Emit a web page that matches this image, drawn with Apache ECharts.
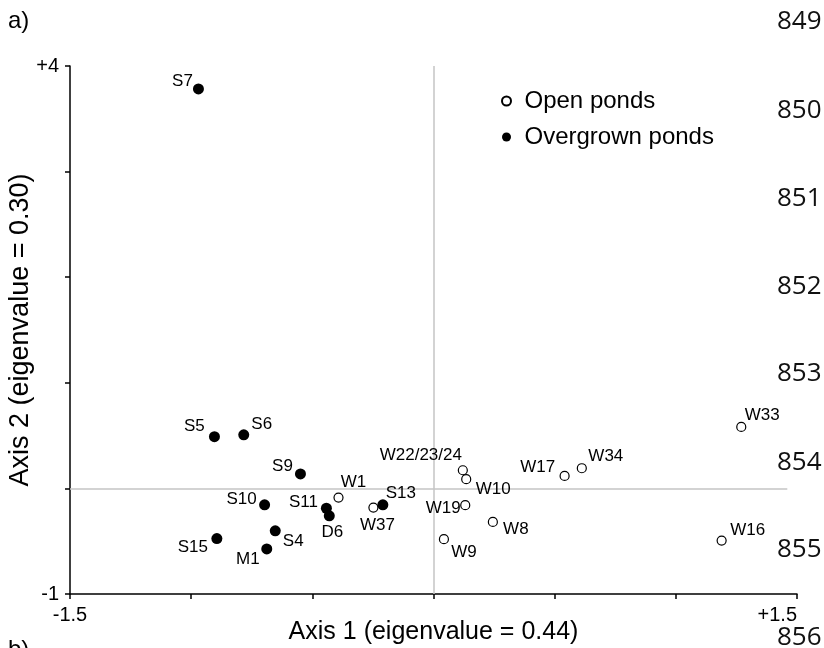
<!DOCTYPE html>
<html>
<head>
<meta charset="utf-8">
<script src="https://cdn.jsdelivr.net/npm/echarts@6/dist/echarts.min.js"></script>
<style>html,body{margin:0;padding:0;background:#fff;}#c{width:824px;height:648px;}</style>
</head>
<body>
<div id="c"></div>
<script>
// ---- data ----
const openNames = ['W1', 'W37', 'W22/23/24', 'W10', 'W19', 'W8', 'W9', 'W17', 'W34', 'W33', 'W16'];
const openX = [-0.392, -0.248, 0.121, 0.135, 0.131, 0.245, 0.043, 0.541, 0.612, 1.270, 1.189];
const openY = [-0.087, -0.182, 0.172, 0.087, -0.159, -0.317, -0.481, 0.118, 0.191, 0.582, -0.494];

const overNames = ['S7', 'S5', 'S6', 'S9', 'S10', 'S11', 'D6', 'S13', 'S4', 'M1', 'S15'];
const overX = [-0.970, -0.904, -0.783, -0.549, -0.697, -0.442, -0.430, -0.209, -0.653, -0.688, -0.894];
const overY = [3.783, 0.490, 0.507, 0.137, -0.156, -0.188, -0.260, -0.156, -0.402, -0.573, -0.475];

const seriesNames = ['Open ponds', 'Overgrown ponds'];
const xTickLabels = { '-1.5': '-1.5', '1.5': '+1.5' };
const yTickLabels = { '-1': '-1', '4': '+4' };
const axisTitles = ['Axis 1 (eigenvalue = 0.44)', 'Axis 2 (eigenvalue = 0.30)'];
const lineNumbers = ['849', '850', '851', '852', '853', '854', '855', '856'];

// ---- label placement (style, offset of label centre from point, px) ----
const labelOffset = {
  'W1': [15, -15], 'W37': [4, 18], 'W22/23/24': [-42, -15], 'W10': [27, 10], 'W19': [-22, 3],
  'W8': [23, 7], 'W9': [20, 13], 'W17': [-27, -9], 'W34': [24, -12], 'W33': [21, -12], 'W16': [26, -10],
  'S7': [-16, -8], 'S5': [-20, -10], 'S6': [18, -11], 'S9': [-18, -8], 'S10': [-23, -6], 'S11': [-23, -6],
  'D6': [3, 16], 'S13': [18, -12], 'S4': [18, 10], 'M1': [-19, 10], 'S15': [-24, 9]
};
const lineNumberY = [22, 111, 199, 287, 374, 463, 550, 638];

const FONT = '"Liberation Sans", Arial, Helvetica, sans-serif';

function build(names, xs, ys) {
  return names.map((n, i) => ({
    name: n,
    value: [xs[i], ys[i]],
    label: { offset: labelOffset[n] || [0, 0] }
  }));
}

const labelStyle = {
  show: true,
  position: 'inside',
  align: 'center',
  verticalAlign: 'middle',
  formatter: p => p.name,
  color: '#000',
  fontFamily: FONT,
  fontSize: 17
};

const chart = echarts.init(document.getElementById('c'), null, { renderer: 'canvas' });
chart.setOption({
  animation: false,
  backgroundColor: '#fff',
  grid: { left: 70, right: 27, top: 66, bottom: 54, containLabel: false, outerBoundsMode: 'none' },
  legend: {
    orient: 'vertical',
    left: 496,
    top: 84,
    itemWidth: 26,
    itemHeight: 9,
    itemGap: 12,
    icon: 'circle',
    data: seriesNames,
    textStyle: { fontFamily: FONT, fontSize: 24, color: '#000' }
  },
  xAxis: {
    type: 'value',
    min: -1.5, max: 1.5, interval: 0.5,
    name: axisTitles[0],
    nameLocation: 'middle',
    nameGap: 26,
    nameMoveOverlap: false,
    nameTextStyle: { fontFamily: FONT, fontSize: 25, color: '#000' },
    axisLine: { show: true, onZero: false, lineStyle: { color: '#000', width: 1.5 } },
    axisTick: { show: true, length: 5, lineStyle: { color: '#000', width: 1.5 } },
    axisLabel: {
      margin: 11, fontFamily: FONT, fontSize: 20, color: '#000',
      alignMaxLabel: 'right',
      formatter: v => xTickLabels[String(v)] || ''
    },
    splitLine: { show: false }
  },
  yAxis: {
    type: 'value',
    min: -1, max: 4, interval: 1,
    name: axisTitles[1],
    nameLocation: 'middle',
    nameRotate: 90,
    nameGap: 36,
    nameMoveOverlap: false,
    nameTextStyle: { fontFamily: FONT, fontSize: 27, color: '#000' },
    axisLine: { show: true, onZero: false, lineStyle: { color: '#000', width: 1.5 } },
    axisTick: { show: true, length: 5, lineStyle: { color: '#000', width: 1.5 } },
    axisLabel: {
      margin: 11, fontFamily: FONT, fontSize: 20, color: '#000',
      formatter: v => yTickLabels[String(v)] || ''
    },
    splitLine: { show: false }
  },
  series: [
    {
      name: seriesNames[0],
      type: 'scatter',
      symbol: 'circle',
      symbolSize: 9,
      itemStyle: { color: '#fff', borderColor: '#000', borderWidth: 1.2, opacity: 1 },
      label: labelStyle,
      data: build(openNames, openX, openY),
      z: 3,
      markLine: {
        silent: true,
        symbol: ['none', 'none'],
        label: { show: false },
        lineStyle: { color: '#c4c4c4', width: 1.5, type: 'solid' },
        data: [
          { xAxis: 0 },
          [{ coord: [-1.5, 0] }, { coord: [1.46, 0] }]
        ],
        z: 1
      }
    },
    {
      name: seriesNames[1],
      type: 'scatter',
      symbol: 'circle',
      symbolSize: 11,
      itemStyle: { color: '#000', borderColor: '#000', borderWidth: 0, opacity: 1 },
      label: labelStyle,
      data: build(overNames, overX, overY),
      z: 4
    }
  ],
  graphic: [
    { type: 'text', left: 8, top: 9, style: { text: 'a)', font: '24px ' + FONT, fill: '#000' } },
    { type: 'text', left: 8, top: 638, style: { text: 'b)', font: '24px ' + FONT, fill: '#000' } }
  ].concat(lineNumbers.map((t, i) => ({
    type: 'text', x: 777, y: lineNumberY[i],
    style: { text: t, font: '26px "Open Sans", Lato, sans-serif', fill: '#111', verticalAlign: 'middle', align: 'left' }
  })))
});
</script>
</body>
</html>
